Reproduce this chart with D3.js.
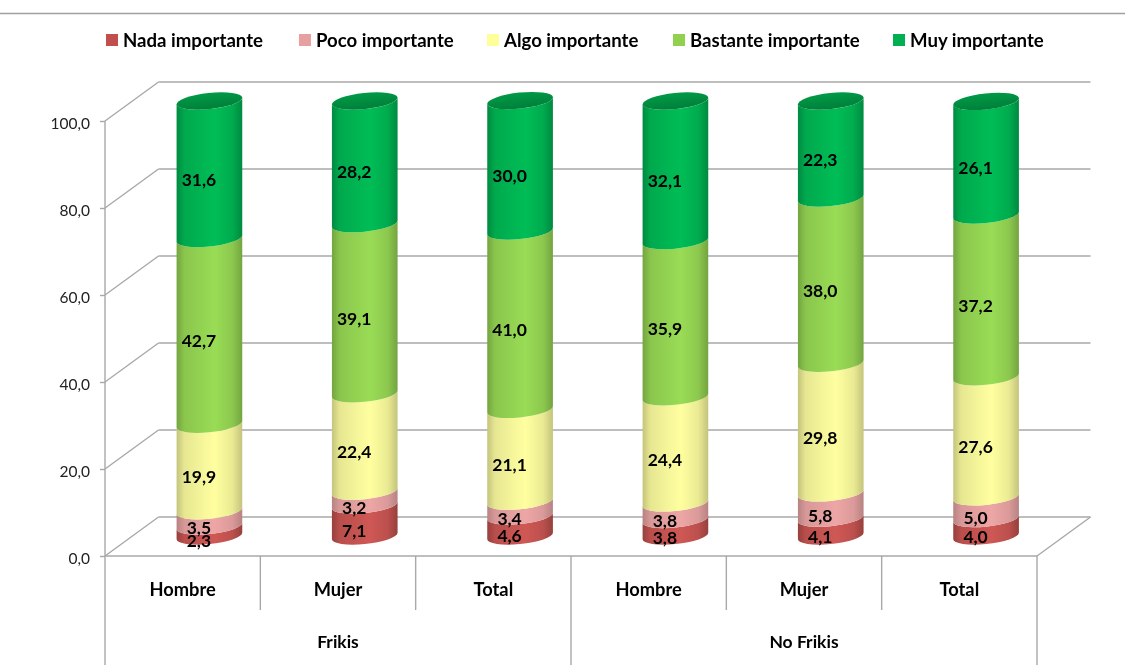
<!DOCTYPE html>
<html><head><meta charset="utf-8">
<script src="https://cdnjs.cloudflare.com/ajax/libs/d3/7.8.5/d3.min.js"></script>
<style>html,body{margin:0;background:#fff}svg{display:block;filter:blur(.4px)}text{font-family:Lato,"Open Sans",sans-serif;font-weight:700;fill:#000}</style>
</head><body><svg id="c" width="1125" height="667"></svg>
<script>
const categories=["Hombre","Mujer","Total","Hombre","Mujer","Total"];
const groups=["Frikis","No Frikis"];
const seriesNames=["Nada importante","Poco importante","Algo importante","Bastante importante","Muy importante"];
const nada=[2.3,7.1,4.6,3.8,4.1,4.0];
const poco=[3.5,3.2,3.4,3.8,5.8,5.0];
const algo=[19.9,22.4,21.1,24.4,29.8,27.6];
const bastante=[42.7,39.1,41.0,35.9,38.0,37.2];
const muy=[31.6,28.2,30.0,32.1,22.3,26.1];
const tickValues=[0,20,40,60,80,100];
const swatchColors=["#c0504d","#e6a0a0","#ffff99","#92d050","#00b050"];
const lit=["#cf5855","#eda6a5","#ffffa0","#99dc55","#00bd56"];
const dark=["#97403d","#b68382","#c4c47c","#74a440","#008a40"];
const legendX=[106,299,487,673,893];

const svg=d3.select("#c");
const grid="#a8a8a8";
const x0=105,x1=1037,dx=53.5,dy=-39;
const x=d3.scaleBand().domain(d3.range(6)).range([x0,x1]);
const y=d3.scaleLinear().domain([0,100]).range([556,121]);

const defs=svg.append("defs");
lit.forEach((c,i)=>{
  const g=defs.append("linearGradient").attr("id","g"+i);
  [[0,dark[i]],[.12,d3.interpolateRgb(dark[i],c)(.6)],[.58,c],[.85,d3.interpolateRgb(dark[i],c)(.65)],[1,dark[i]]]
    .forEach(s=>g.append("stop").attr("offset",s[0]).attr("stop-color",s[1]));
});
const cg=defs.append("linearGradient").attr("id","cap").attr("x2",0).attr("y2",1);
cg.append("stop").attr("offset",0).attr("stop-color","#009a46");
cg.append("stop").attr("offset",1).attr("stop-color","#007f3a");

svg.append("line").attr("x1",0).attr("x2",1125).attr("y1",13.5).attr("y2",13.5).attr("stroke","#a0a0a0").attr("stroke-width",1.5);

const line=(a,b,c,d,w)=>svg.append("line").attr("x1",a).attr("y1",b).attr("x2",c).attr("y2",d).attr("stroke",grid).attr("stroke-width",w||1.4);
tickValues.forEach(t=>{
  line(x0,y(t),x0+dx,y(t)+dy);
  line(x0+dx,y(t)+dy,x1+dx,y(t)+dy);
});
line(x1,y(0),x1+dx,y(0)+dy);
line(x0,y(0),x1,y(0));
line(x0,y(100),x0,665);
d3.range(1,6).forEach(i=>line(x(i),y(0),x(i),i===3?665:610));
line(x1,y(0),x1,665);

const ax=svg.append("g").attr("transform",`translate(${x0},0)`)
  .call(d3.axisLeft(y).tickValues(tickValues).tickSize(5).tickPadding(10).tickFormat(d=>d3.format(".1f")(d).replace(".",",")));
ax.select(".domain").remove();
ax.selectAll("line").attr("stroke",grid).attr("stroke-width",1.4);
ax.selectAll("text").attr("dy","0.5em").style("font-family","Lato").style("font-weight",400).style("font-size","15.5px").style("fill","#222");

const series=[nada,poco,algo,bastante,muy];
const rx=33,ry=8,rot=-6,th=rot*Math.PI/180;
// silhouette points: where the tilted ellipse has a vertical tangent
const t0=Math.atan2(-ry*Math.sin(th),rx*Math.cos(th));
const tx=rx*Math.cos(t0)*Math.cos(th)-ry*Math.sin(t0)*Math.sin(th);
const ty=rx*Math.cos(t0)*Math.sin(th)+ry*Math.sin(t0)*Math.cos(th);
const cx=i=>x(i)+x.bandwidth()/2+dx/2;
const cy=v=>y(v)+dy/2-0.5;
const fmt=v=>d3.format(".1f")(v).replace(".",",");
categories.forEach((c,i)=>{
  let acc=0;
  const g=svg.append("g");
  const labels=[];
  series.forEach((s,k)=>{
    const a=acc,b=acc+s[i];acc=b;
    const X=cx(i);
    const p=`M${X-tx},${cy(b)-ty}L${X-tx},${cy(a)-ty}A${rx},${ry} ${rot} 0 0 ${X+tx},${cy(a)+ty}L${X+tx},${cy(b)+ty}A${rx},${ry} ${rot} 0 1 ${X-tx},${cy(b)-ty}Z`;
    g.append("path").attr("d",p).attr("fill",`url(#g${k})`);
    if(k===series.length-1){
      g.append("ellipse").attr("rx",rx).attr("ry",ry).attr("transform",`translate(${X},${cy(b)}) rotate(${rot})`).attr("fill","url(#cap)");
    }
    labels.push([X-10.5,y((a+b)/2)-10.5,s[i]]);
  });
  labels.forEach(l=>g.append("text").attr("x",l[0]).attr("y",l[1]).attr("text-anchor","middle").attr("dominant-baseline","central").style("font-size","17.5px").text(fmt(l[2])));
  svg.append("text").attr("x",x(i)+x.bandwidth()/2).attr("y",589).attr("text-anchor","middle").attr("dominant-baseline","central").style("font-size","18.3px").text(c);
});
groups.forEach((t,i)=>svg.append("text").attr("x",x(i*3+1)+x.bandwidth()/2).attr("y",641).attr("text-anchor","middle").attr("dominant-baseline","central").style("font-size","17.5px").text(t));

seriesNames.forEach((n,i)=>{
  svg.append("rect").attr("x",legendX[i]).attr("y",34).attr("width",12).attr("height",12).attr("fill",swatchColors[i]);
  svg.append("text").attr("x",legendX[i]+17).attr("y",40).attr("dominant-baseline","central").style("font-size","18.6px").text(n);
});
</script></body></html>
